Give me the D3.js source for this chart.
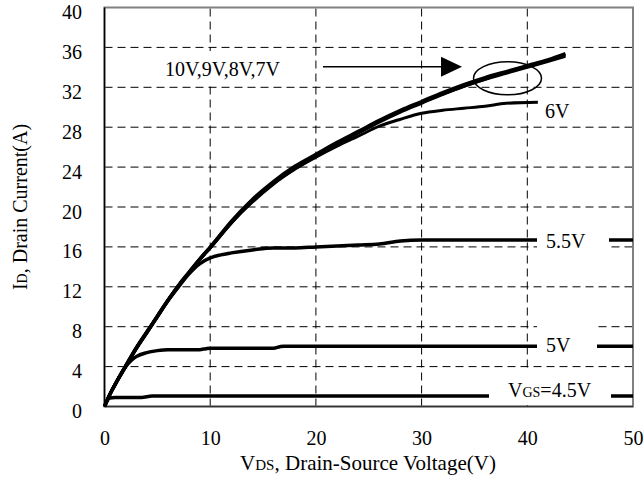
<!DOCTYPE html>
<html>
<head>
<meta charset="utf-8">
<script src="https://cdn.jsdelivr.net/npm/d3@7"></script>
<style>
  html, body { margin: 0; padding: 0; background: #fff; }
  svg { display: block; }
  text { font-family: "Liberation Serif", "Times New Roman", serif; fill: #000; }
</style>
</head>
<body>
<svg id="chart" width="644" height="482"></svg>
<script>
// ---- data ----
const xTicks = [0, 10, 20, 30, 40, 50];
const yTicks = [0, 4, 8, 12, 16, 20, 24, 28, 32, 36, 40];

// VGS = 10V, 9V, 8V, 7V (overlapping)
const vdsHigh = [0, 0.5, 1, 2, 3, 4, 5, 6, 7, 8, 9, 10, 12, 14, 16, 18, 20, 22, 24, 26, 28, 30, 32, 34, 36, 38, 40, 42, 43.6];
const id10V = [0, 1.2, 2.2, 4.1, 5.9, 7.5, 9.1, 10.7, 12.2, 13.5, 14.8, 16.0, 18.6, 20.8, 22.6, 24.1, 25.3, 26.5, 27.6, 28.7, 29.7, 30.6, 31.5, 32.3, 33.0, 33.6, 34.2, 34.8, 35.4];
const id9V  = [0, 1.2, 2.2, 4.1, 5.9, 7.5, 9.1, 10.7, 12.1, 13.5, 14.8, 16.0, 18.5, 20.7, 22.5, 24.0, 25.2, 26.4, 27.5, 28.6, 29.6, 30.5, 31.4, 32.2, 32.9, 33.5, 34.1, 34.7, 35.3];
const id8V  = [0, 1.2, 2.2, 4.0, 5.8, 7.4, 9.0, 10.6, 12.1, 13.4, 14.7, 15.9, 18.4, 20.6, 22.4, 23.9, 25.2, 26.3, 27.5, 28.6, 29.6, 30.5, 31.3, 32.1, 32.8, 33.5, 34.1, 34.7, 35.2];
const id7V  = [0, 1.2, 2.2, 4.0, 5.8, 7.4, 9.0, 10.6, 12.0, 13.4, 14.7, 15.9, 18.4, 20.5, 22.3, 23.8, 25.1, 26.3, 27.4, 28.5, 29.5, 30.4, 31.3, 32.1, 32.8, 33.4, 34.0, 34.6, 35.1];

const vds6V = [0, 0.5, 1, 2, 3, 4, 5, 6, 7, 8, 9, 10, 12, 14, 16, 18, 20, 22, 24, 26, 28, 30, 32, 34, 36, 38, 41];
const id6V  = [0, 1.2, 2.2, 4.0, 5.8, 7.4, 9.0, 10.6, 12.1, 13.4, 14.7, 15.9, 18.4, 20.6, 22.4, 23.8, 25.0, 26.1, 27.1, 28.1, 28.8, 29.4, 29.7, 29.9, 30.1, 30.4, 30.5];

const vds55V = [0, 0.5, 1, 2, 3, 4, 5, 6, 7, 8, 9, 10, 11, 12, 14, 16, 18, 20, 22, 24, 26, 28, 30, 50];
const id55V  = [0, 1.2, 2.2, 4.0, 5.8, 7.4, 9.0, 10.6, 12.0, 13.3, 14.3, 14.9, 15.2, 15.4, 15.7, 15.9, 15.9, 16.0, 16.1, 16.2, 16.3, 16.6, 16.7, 16.7];

const vds5V = [0, 0.5, 1, 2, 2.5, 3, 4, 5, 6, 9, 9.6, 10, 16, 16.6, 17, 50];
const id5V  = [0, 1.2, 2.2, 4.0, 4.6, 5.0, 5.4, 5.6, 5.7, 5.7, 5.8, 5.85, 5.85, 6.0, 6.05, 6.05];

const vds45V = [0, 0.5, 1, 3.5, 4.5, 50];
const id45V  = [0, 0.85, 0.9, 0.9, 1.05, 1.05];

// ---- layout ----
const svg = d3.select("#chart");
const x = d3.scaleLinear().domain([0, 50]).range([104.5, 633]);
const y = d3.scaleLinear().domain([0, 40]).range([406.5, 7.5]);

// grid
const grid = svg.append("g");
grid.selectAll("line.h").data(yTicks.filter(d => d > 0 && d < 40)).enter().append("line")
  .attr("x1", x(0)).attr("x2", x(50)).attr("y1", d => y(d)).attr("y2", d => y(d))
  .attr("stroke", "#000").attr("stroke-width", 1).attr("stroke-dasharray", "8,5");
grid.selectAll("line.v").data(xTicks.filter(d => d > 0 && d < 50)).enter().append("line")
  .attr("y1", y(0)).attr("y2", y(40)).attr("x1", d => x(d)).attr("x2", d => x(d))
  .attr("stroke", "#000").attr("stroke-width", 1).attr("stroke-dasharray", "8,5");

// frame
svg.append("rect").attr("x", x(0)).attr("y", y(40)).attr("width", x(50) - x(0)).attr("height", y(0) - y(40))
  .attr("fill", "none").attr("stroke", "#808080").attr("stroke-width", 2);
svg.append("line").attr("x1", x(0)).attr("x2", x(0)).attr("y1", y(0)).attr("y2", y(40))
  .attr("stroke", "#000").attr("stroke-width", 1.5);
svg.append("line").attr("x1", x(0)).attr("x2", x(50)).attr("y1", y(0)).attr("y2", y(0))
  .attr("stroke", "#333").attr("stroke-width", 1.5);

// axes tick labels
const xAxis = d3.axisBottom(x).tickValues(xTicks).tickSize(0).tickPadding(0);
const gx = svg.append("g").attr("transform", `translate(0,${y(0)})`).call(xAxis);
gx.select(".domain").remove();
gx.selectAll("text").attr("font-size", 20).attr("font-family", "Liberation Serif").attr("dy", null).attr("y", 38);

const yAxis = d3.axisLeft(y).tickValues(yTicks).tickSize(0).tickPadding(0);
const gy = svg.append("g").attr("transform", `translate(82,0)`).call(yAxis);
gy.select(".domain").remove();
gy.selectAll("text").attr("font-size", 20).attr("font-family", "Liberation Serif").attr("dy", null).attr("y", 11).attr("x", 0);

// curves
const line = d3.line().x(d => x(d[0])).y(d => y(d[1])).curve(d3.curveMonotoneX);
const zip = (a, b) => a.map((v, i) => [v, b[i]]);
const curves = [
  { v: vdsHigh, i: id7V, w: 3 },
  { v: vdsHigh, i: id8V, w: 3 },
  { v: vdsHigh, i: id9V, w: 3 },
  { v: vdsHigh, i: id10V, w: 3 },
  { v: vds6V, i: id6V, w: 3 },
  { v: vds55V, i: id55V, w: 3.5 },
  { v: vds5V, i: id5V, w: 3.5 },
  { v: vds45V, i: id45V, w: 3.5 }
];
svg.append("g").selectAll("path").data(curves).enter().append("path")
  .attr("d", d => line(zip(d.v, d.i)))
  .attr("fill", "none").attr("stroke", "#000").attr("stroke-width", d => d.w)
  .attr("stroke-linejoin", "round").attr("stroke-linecap", "butt");

// label boxes (white, hide lines/grid behind labels)
const boxes = [
  [157, 51, 145, 33],
  [537, 227, 72, 30],
  [537, 322, 60, 40],
  [489, 371, 122, 34]
];
svg.append("g").selectAll("rect").data(boxes).enter().append("rect")
  .attr("x", d => d[0]).attr("y", d => d[1]).attr("width", d => d[2]).attr("height", d => d[3])
  .attr("fill", "#fff");

// labels
const ann = svg.append("g").attr("font-size", 20);
ann.append("text").attr("x", 165).attr("y", 76).text("10V,9V,8V,7V");
ann.append("text").attr("x", 545).attr("y", 118).text("6V");
ann.append("text").attr("x", 546).attr("y", 248).text("5.5V");
ann.append("text").attr("x", 546).attr("y", 351.5).text("5V");
const vgs = ann.append("text").attr("x", 508).attr("y", 396.5);
vgs.append("tspan").text("V");
vgs.append("tspan").attr("font-size", 14).text("GS");
vgs.append("tspan").text("=4.5V");

// arrow
svg.append("line").attr("x1", 323).attr("x2", 443).attr("y1", 66.7).attr("y2", 66.7)
  .attr("stroke", "#000").attr("stroke-width", 1.5);
svg.append("path").attr("d", "M441,56.7 L462,66.7 L441,76.7 Z").attr("fill", "#000");

// ellipse
svg.append("ellipse").attr("cx", 507.5).attr("cy", 78.3).attr("rx", 34).attr("ry", 16.5)
  .attr("fill", "none").attr("stroke", "#000").attr("stroke-width", 1.5);

// axis titles
const xt = svg.append("text").attr("x", 368).attr("y", 470).attr("text-anchor", "middle").attr("font-size", 21);
xt.append("tspan").text("V");
xt.append("tspan").attr("font-size", 15).text("DS");
xt.append("tspan").text(", Drain-Source Voltage(V)");

const yt = svg.append("text").attr("transform", "translate(27,207) rotate(-90)").attr("text-anchor", "middle").attr("font-size", 20);
yt.append("tspan").text("I");
yt.append("tspan").attr("font-size", 14).text("D");
yt.append("tspan").text(", Drain Current(A)");
</script>
</body>
</html>
